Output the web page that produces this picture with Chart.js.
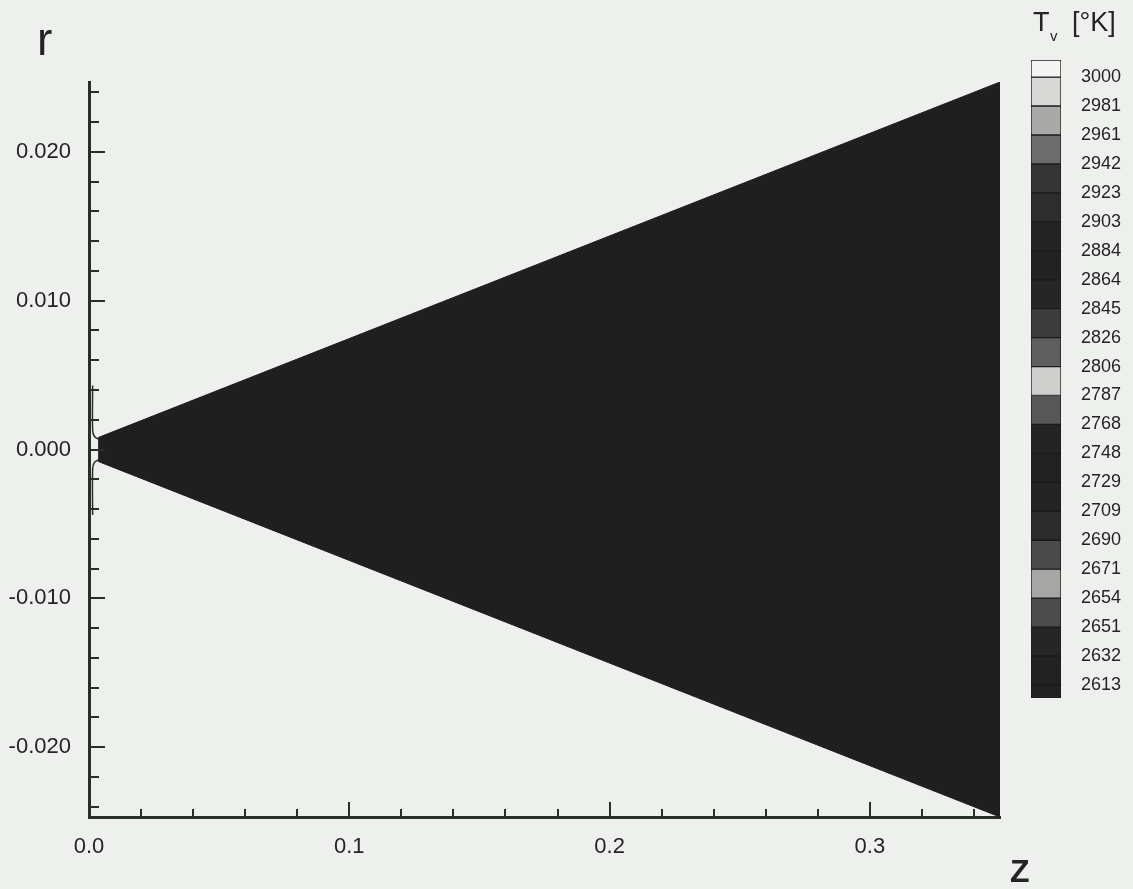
<!DOCTYPE html>
<html>
<head>
<meta charset="utf-8">
<script src="https://cdn.jsdelivr.net/npm/chart.js@4.4.1/dist/chart.umd.min.js"></script>
<style>
  html, body { margin: 0; padding: 0; background: #eef0ee; }
  #wrap { position: relative; width: 1133px; height: 889px; }
  #wrap canvas { position: absolute; left: 0; top: 0; }
</style>
</head>
<body>
<div id="wrap">
  <canvas id="main" width="1133" height="889"></canvas>
  <canvas id="legend" width="1133" height="889"></canvas>
</div>
<script>
// cone outline (z, r)
const zEdge = [0.0035, 0.35];
const rUpper = [0.0008, 0.0247];
const rLower = [-0.0008, -0.0247];

// little cusp next to the axis at the nozzle
const zCusp = [0.0014, 0.0014, 0.0020, 0.0035];
const rCuspUpper = [0.0043, 0.0013, 0.0009, 0.0007];
const rCuspLower = [-0.0044, -0.0013, -0.0009, -0.0007];

// colour bar levels, top to bottom
const levelLabels = [3000, 2981, 2961, 2942, 2923, 2903, 2884, 2864, 2845, 2826, 2806,
  2787, 2768, 2748, 2729, 2709, 2690, 2671, 2654, 2651, 2632, 2613];

// shade of each band, top to bottom (one above 3000, one below 2613)
const bandShades = ["#f4f5f3", "#d8d9d7", "#a9aaa8", "#6b6c6b", "#353535", "#2d2d2d",
  "#242424", "#222222", "#262626", "#3c3c3c", "#5e5e5e", "#cfd0ce", "#575757",
  "#242424", "#222222", "#242424", "#2c2c2c", "#4a4a4a", "#a6a7a5", "#4b4b4b",
  "#262626", "#222222", "#222222"];

const axisColor = "#263026";
const textColor = "#242424";
const fontFamily = '"Liberation Sans", Arial, sans-serif';
const coneColor = "#1f1f1f";

const toPts = (xs, ys) => xs.map((x, i) => ({ x: x, y: ys[i] }));
const isMultiple = (v, step) => Math.abs(v / step - Math.round(v / step)) < 1e-6;

const inwardTicks = {
  id: "inwardTicks",
  afterDraw(chart) {
    const { ctx, chartArea: a, scales: { x, y } } = chart;
    ctx.save();
    ctx.strokeStyle = axisColor;
    ctx.lineWidth = 2;
    ctx.beginPath();
    x.ticks.forEach(t => {
      const px = Math.round(x.getPixelForValue(t.value));
      const len = isMultiple(t.value, 0.1) ? 15 : 8;
      ctx.moveTo(px, a.bottom);
      ctx.lineTo(px, a.bottom - len);
    });
    y.ticks.forEach(t => {
      const py = Math.round(y.getPixelForValue(t.value));
      const len = isMultiple(t.value, 0.01) ? 16 : 10;
      ctx.moveTo(a.left, py);
      ctx.lineTo(a.left + len, py);
    });
    ctx.stroke();

    ctx.fillStyle = textColor;
    ctx.textBaseline = "alphabetic";
    ctx.font = "46px " + fontFamily;
    ctx.fillText("r", 37, 55);
    ctx.font = "bold 32px " + fontFamily;
    ctx.fillText("Z", 1010, 882);
    ctx.restore();
  }
};

new Chart(document.getElementById("main"), {
  type: "scatter",
  data: {
    datasets: [
      {
        data: toPts(zEdge, rUpper),
        showLine: true,
        fill: "+1",
        backgroundColor: coneColor,
        borderColor: coneColor,
        borderWidth: 1,
        pointRadius: 0
      },
      {
        data: toPts(zEdge, rLower),
        showLine: true,
        fill: false,
        borderColor: coneColor,
        borderWidth: 1,
        pointRadius: 0
      },
      {
        data: toPts(zCusp, rCuspUpper),
        showLine: true,
        fill: false,
        borderColor: "#2a2a2a",
        borderWidth: 1.5,
        tension: 0.4,
        pointRadius: 0
      },
      {
        data: toPts(zCusp, rCuspLower),
        showLine: true,
        fill: false,
        borderColor: "#2a2a2a",
        borderWidth: 1.5,
        tension: 0.4,
        pointRadius: 0
      }
    ]
  },
  options: {
    responsive: false,
    animation: false,
    events: [],
    layout: { padding: { left: 0, top: 82, right: 133, bottom: 0 } },
    plugins: { legend: { display: false }, tooltip: { enabled: false } },
    scales: {
      x: {
        type: "linear",
        min: 0,
        max: 0.35,
        afterFit: s => { s.height = 72; },
        grid: { display: false },
        border: { display: true, color: axisColor, width: 3 },
        ticks: {
          stepSize: 0.02,
          includeBounds: false,
          autoSkip: false,
          maxRotation: 0,
          padding: 9,
          color: textColor,
          font: { family: fontFamily, size: 22 },
          callback: v => isMultiple(v, 0.1) ? v.toFixed(1) : ""
        }
      },
      y: {
        type: "linear",
        min: -0.0247,
        max: 0.0247,
        afterFit: s => { s.width = 89; },
        grid: { display: false },
        border: { display: true, color: axisColor, width: 3 },
        ticks: {
          stepSize: 0.002,
          includeBounds: false,
          autoSkip: false,
          padding: 10,
          color: textColor,
          font: { family: fontFamily, size: 22 },
          callback: v => {
            if (!isMultiple(v, 0.01)) return "";
            if (Math.abs(v) < 1e-9) return "0.000";
            return v.toFixed(3);
          }
        }
      }
    }
  },
  plugins: [inwardTicks]
});

// colour bar: bands sit between label positions (label i at 21 - i)
const topPos = levelLabels.length - 1;
const barMin = -0.45;
const barMax = topPos + 0.59;

const bandDatasets = bandShades.map((shade, k) => {
  let lo, hi;
  if (k === 0) { lo = topPos; hi = barMax; }
  else if (k === bandShades.length - 1) { lo = barMin; hi = 0; }
  else { lo = topPos - k; hi = topPos - k + 1; }
  return {
    data: [[lo, hi]],
    backgroundColor: shade,
    borderColor: "#1b1b1b",
    borderWidth: 1,
    borderSkipped: false,
    grouped: false,
    barPercentage: 1,
    categoryPercentage: 1
  };
});

const barTitle = {
  id: "barTitle",
  afterDraw(chart) {
    const ctx = chart.ctx;
    ctx.save();
    ctx.fillStyle = textColor;
    ctx.textBaseline = "alphabetic";
    ctx.font = "27px " + fontFamily;
    ctx.fillText("T", 1033, 31);
    ctx.font = "15px " + fontFamily;
    ctx.fillText("v", 1050, 41);
    ctx.font = "27px " + fontFamily;
    ctx.fillText("[°K]", 1072, 31);
    ctx.restore();
  }
};

new Chart(document.getElementById("legend"), {
  type: "bar",
  data: { labels: [""], datasets: bandDatasets },
  options: {
    responsive: false,
    animation: false,
    events: [],
    layout: { padding: { left: 1031, top: 60, right: 0, bottom: 191 } },
    plugins: { legend: { display: false }, tooltip: { enabled: false } },
    scales: {
      x: { display: false },
      y: {
        position: "right",
        min: barMin,
        max: barMax,
        afterFit: s => { s.width = 72; },
        grid: { display: false },
        border: { display: false },
        ticks: {
          stepSize: 1,
          includeBounds: false,
          autoSkip: false,
          padding: 12,
          color: textColor,
          font: { family: fontFamily, size: 18 },
          callback: v => {
            const label = levelLabels[topPos - Math.round(v)];
            return label === undefined ? "" : String(label);
          }
        }
      }
    }
  },
  plugins: [barTitle]
});
</script>
</body>
</html>
